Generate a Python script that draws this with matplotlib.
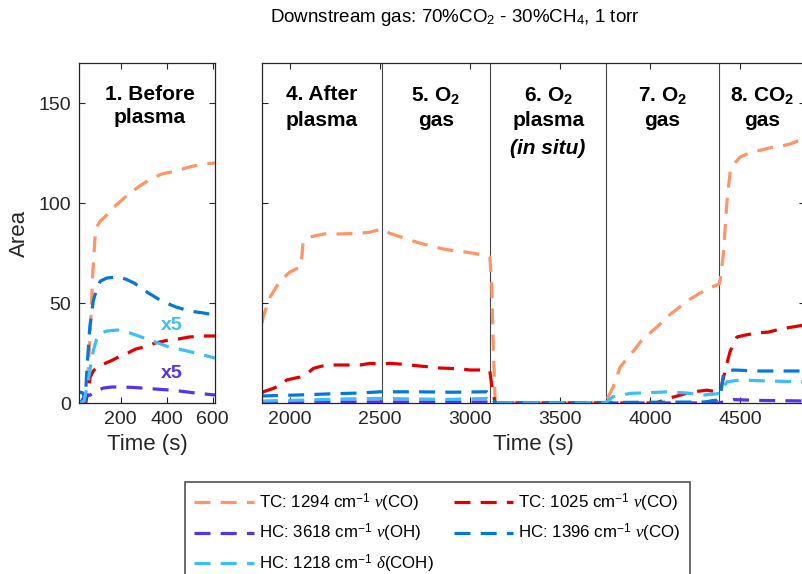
import numpy as np
import matplotlib
matplotlib.use("Agg")
import matplotlib.pyplot as plt

plt.rcParams['font.family'] = ['Liberation Sans', 'DejaVu Sans']
plt.rcParams['mathtext.fontset'] = 'custom'
plt.rcParams['mathtext.rm'] = 'Liberation Sans'
plt.rcParams['mathtext.it'] = 'Liberation Serif:italic'
plt.rcParams['mathtext.bf'] = 'Liberation Sans:bold'

# ---- data: left panel (1. before plasma) ----
salmon_L_t = [20, 47, 57, 67, 78, 89, 100, 111, 130, 156, 180, 200, 240, 289, 330, 378, 440, 498, 560, 610]
salmon_L_v = [0, 0, 15, 35, 65, 85, 89, 91, 93, 96, 99, 101, 105, 109, 112, 114.5, 116, 118, 119.5, 120]
red_L_t = [20, 47, 57, 67, 80, 98, 125, 156, 190, 231, 265, 302, 350, 409, 450, 498, 560, 610]
red_L_v = [0, 0, 6, 13, 16, 18, 19.5, 21, 23, 25, 27, 28, 30, 31.5, 32, 33, 33.5, 33.5]
purple_L_t = [20, 30, 40, 50, 67, 90, 125, 160, 200, 250, 289, 350, 409, 470, 524, 610]
purple_L_v = [0, 1, 3, 3.5, 4, 6, 7.5, 8, 8, 7.8, 7.5, 7, 6.5, 5.8, 5, 4]
blue_L_t = [20, 35, 45, 53, 65, 80, 95, 111, 140, 187, 220, 258, 320, 378, 440, 498, 560, 610]
blue_L_v = [5.5, 5, 1, 18, 38, 51, 57, 61, 62.5, 63, 62, 60, 55, 51, 48, 46, 45, 44]
lblue_L_t = [20, 40, 57, 70, 80, 95, 111, 140, 187, 240, 289, 350, 409, 470, 524, 610]
lblue_L_v = [0, 1, 10, 20, 26, 32, 35, 36, 36.5, 35, 33, 30.5, 28, 26.5, 25, 22.5]

# ---- data: right panel (4. to 8.) ----
salmon_R_t = [1845, 1852, 1870, 1890, 1945, 2000, 2056, 2065, 2073, 2112, 2160, 2204, 2270, 2334, 2400,
              2445, 2510, 2550, 2593, 2650, 2704, 2780, 2852, 2920, 2982, 3040, 3093, 3110, 3120, 3130,
              3140, 3750, 3795, 3834, 3870, 3908, 3950, 4000, 4050, 4093, 4150, 4204, 4260, 4315, 4371,
              4385, 4395, 4408, 4427, 4445, 4470, 4500, 4550, 4593, 4640, 4684, 4730, 4778, 4820, 4860]
salmon_R_v = [40, 43, 48, 53, 61, 65.5, 68, 72, 80, 83, 84, 84.7, 84.5, 84.7, 85,
              85.4, 87, 85, 83.7, 82, 80.4, 78.5, 77, 76, 75.4, 74.5, 73.8, 73, 60, 25,
              0, 0, 8, 18, 22, 26, 31, 35, 39, 43, 47, 51, 54, 57, 59,
              59.5, 65, 76, 101, 116, 120, 123, 125, 126, 127, 128, 128.5, 129.5, 131, 132]
red_R_t = [1845, 1852, 1908, 1950, 1982, 2056, 2100, 2130, 2180, 2241, 2300, 2389, 2445, 2500, 2556,
           2610, 2667, 2720, 2778, 2830, 2889, 2950, 3000, 3050, 3093, 3110, 3125, 3140, 4030, 4080,
           4130, 4190, 4241, 4315, 4371, 4390, 4408, 4427, 4445, 4482, 4530, 4593, 4660, 4723, 4790, 4860]
red_R_v = [5, 5.6, 7.3, 9, 11.5, 13, 15, 17.3, 18.5, 19, 19, 19, 19.8, 19.5, 19.8,
           19.5, 19, 18.5, 18, 17.5, 17.3, 17, 16.5, 16.5, 16.5, 16, 6, 0, 0, 1.5,
           3, 4.5, 5.6, 6.4, 5.6, 6, 13, 20, 26, 33, 34, 35, 35.5, 37, 38, 39]
purple_R_t = [1845, 2500, 3093, 3140, 4380, 4420, 4463, 4600, 4860]
purple_R_v = [0.5, 0.5, 0.5, 0, 0, 0.8, 1.7, 1.3, 1]
blue_R_t = [1845, 1950, 2045, 2200, 2389, 2500, 2700, 2900, 3093, 3120, 3140, 4300, 4371, 4390, 4408,
            4435, 4463, 4600, 4750, 4860]
blue_R_v = [3.5, 3.8, 4, 4.5, 5, 5.6, 5.6, 5.4, 5.6, 3, 0, 0.5, 1.5, 3, 15,
            16, 16.5, 16, 16, 16]
lblue_R_t = [1845, 1950, 2100, 2300, 2500, 2700, 2900, 3093, 3140, 3750, 3795, 3889, 4000, 4100, 4200,
             4300, 4390, 4408, 4427, 4500, 4650, 4860]
lblue_R_v = [1, 1.2, 1.5, 2, 2.3, 2, 1.8, 2.3, 0, 0, 3.2, 4.8, 5.2, 5.6, 5,
             4, 4.8, 8, 10.6, 11.5, 11, 10.6]

series_names = ["TC: 1294 cm$^{-1}$ $\\mathit{\\nu}$(CO)",
                "TC: 1025 cm$^{-1}$ $\\mathit{\\nu}$(CO)",
                "HC: 3618 cm$^{-1}$ $\\mathit{\\nu}$(OH)",
                "HC: 1396 cm$^{-1}$ $\\mathit{\\nu}$(CO)",
                "HC: 1218 cm$^{-1}$ $\\mathit{\\delta}$(COH)"]
colors = ['#FF9466', '#E00000', '#5533EE', '#0478D8', '#3CBEFA']

left_data = [(salmon_L_t, salmon_L_v), (red_L_t, red_L_v), (purple_L_t, purple_L_v),
             (blue_L_t, blue_L_v), (lblue_L_t, lblue_L_v)]
right_data = [(salmon_R_t, salmon_R_v), (red_R_t, red_R_v), (purple_R_t, purple_R_v),
              (blue_R_t, blue_R_v), (lblue_R_t, lblue_R_v)]

step_bounds = [2510, 3112, 3756, 4380]
step_labels = [(2178, ["4. After", "plasma"]),
               (2810, ["5. O$_{\\mathbf{2}}$", "gas"]),
               (3434, ["6. O$_{\\mathbf{2}}$", "plasma"]),
               (4068, ["7. O$_{\\mathbf{2}}$", "gas"]),
               (4620, ["8. CO$_{\\mathbf{2}}$", "gas"])]

W, H = 802, 574
fig = plt.figure(figsize=(W / 100, H / 100), dpi=100)
axL = fig.add_axes([79 / W, 1 - 403 / H, 136 / W, 340 / H])
axR = fig.add_axes([262 / W, 1 - 403 / H, 543 / W, 340 / H])

ink = '#262626'
line_kw = dict(lw=2.3, dashes=(5, 3.2), solid_capstyle='butt', dash_capstyle='butt')

handles = []
for (t, v), c, name in zip(left_data, colors, series_names):
    h, = axL.plot(t, v, color=c, label=name, **line_kw)
    handles.append(h)
for (t, v), c in zip(right_data, colors):
    axR.plot(t, v, color=c, **line_kw)

for ax in (axL, axR):
    ax.set_ylim(0, 170)
    ax.set_yticks([0, 50, 100, 150])
    ax.tick_params(direction='in', length=4, width=0.8, colors=ink, labelsize=14,
                   top=True, right=True, pad=6)
    for sp in ax.spines.values():
        sp.set_color(ink)
        sp.set_linewidth(0.9)
    ax.set_xlabel("Time (s)", fontsize=16, color=ink, labelpad=4)

axL.set_xlim(18, 610)
axL.set_xticks([200, 400, 600])
axL.set_ylabel("Area", fontsize=16, color=ink, labelpad=6)
axR.set_xlim(1845, 4860)
axR.set_xticks([2000, 2500, 3000, 3500, 4000, 4500])
axR.tick_params(labelleft=False)

for b in step_bounds:
    axR.axvline(b, color='#444444', lw=0.8, zorder=1)

axL.text(0.52, 0.935, "1. Before\nplasma", transform=axL.transAxes, ha='center', va='top',
         fontsize=15, fontweight='bold', linespacing=1.25)
axL.text(422, 38.5, "x5", color=colors[4], fontsize=14, fontweight='bold', ha='center', va='center')
axL.text(422, 14.5, "x5", color=colors[2], fontsize=14, fontweight='bold', ha='center', va='center')

for xc, (l1, l2) in step_labels:
    axR.text(xc, 154, l1, ha='center', va='center', fontsize=15, fontweight='bold')
    axR.text(xc, 141, l2, ha='center', va='center', fontsize=15, fontweight='bold')
axR.text(3434, 127, "(in situ)", ha='center', va='center', fontsize=15,
         fontweight='bold', fontstyle='italic')

fig.text(455 / W, 1 - 18 / H, "Downstream gas: 70%CO$_2$ - 30%CH$_4$, 1 torr",
         ha='center', va='center', fontsize=13.5)

order = [0, 2, 4, 1, 3]
leg = fig.legend([handles[i] for i in order], [series_names[i] for i in order],
                 loc='upper left', bbox_to_anchor=(185 / W, 1 - 482 / H), ncol=2,
                 fontsize=12.2, frameon=True, fancybox=False, edgecolor=ink,
                 handlelength=3.5, labelspacing=0.5, columnspacing=1.2,
                 borderaxespad=0, borderpad=0.55, handletextpad=0.3)
leg.get_frame().set_linewidth(1.2)

fig.savefig("out.png", dpi=100)
